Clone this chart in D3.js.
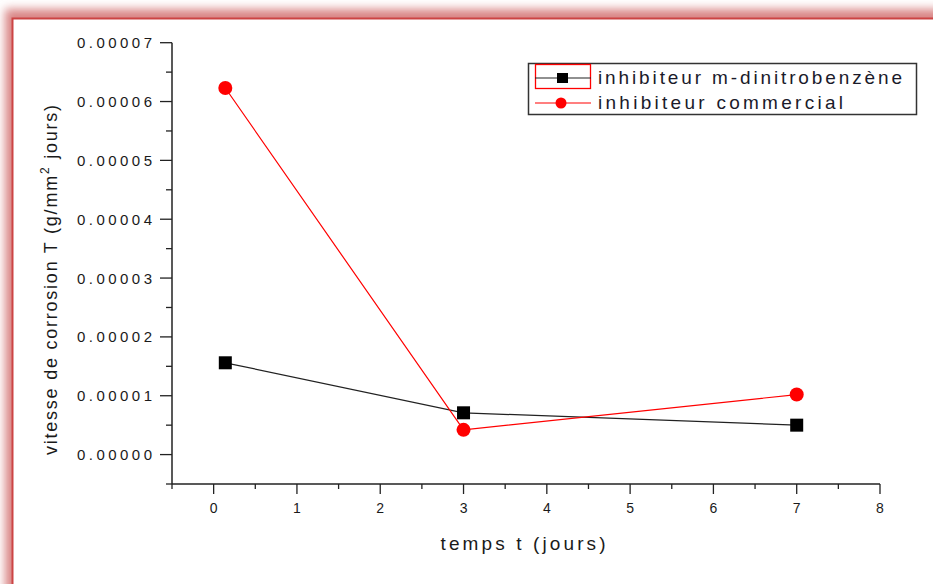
<!DOCTYPE html>
<html>
<head>
<meta charset="utf-8">
<script src="https://cdn.jsdelivr.net/npm/d3@7"></script>
<style>
  html, body { margin: 0; padding: 0; background: #fff; }
  svg { display: block; font-family: "Liberation Sans", Arial, sans-serif; }
</style>
</head>
<body>
<svg id="chart" width="933" height="584"></svg>
<script>
// data
const joursM = [0.14, 3, 7]
const vitesseM = [1.56e-5, 7.1e-6, 5.0e-6]
const joursC = [0.14, 3, 7]
const vitesseC = [6.23e-5, 4.2e-6, 1.02e-5]

const xTicks = [0, 1, 2, 3, 4, 5, 6, 7, 8]
const yTicks = [0, 1e-5, 2e-5, 3e-5, 4e-5, 5e-5, 6e-5, 7e-5]
const legendLabels = ["inhibiteur m-dinitrobenzène", "inhibiteur commercial"]

const svg = d3.select("#chart")

// frame with reddish shadow
const defs = svg.append("defs")
defs.append("filter").attr("id", "blur")
    .attr("x", "-20%").attr("y", "-20%").attr("width", "140%").attr("height", "140%")
  .append("feGaussianBlur").attr("stdDeviation", 5)

svg.append("rect")
    .attr("x", 5).attr("y", 9).attr("width", 1100).attr("height", 1100)
    .style("fill", "#d98585")
    .attr("filter", "url(#blur)")
svg.append("rect")
    .attr("x", 12.5).attr("y", 18.5).attr("width", 1100).attr("height", 1100)
    .style("fill", "#fff")
    .style("stroke", "#cc4444")
    .style("stroke-width", 2)

const x = d3.scaleLinear().domain([-0.5, 8]).range([172, 880])
const y = d3.scaleLinear().domain([-5e-6, 7e-5]).range([484, 42.7])

const axisColor = "#222"

// y axis
const yAxis = svg.append("g").attr("transform", "translate(172,0)")
yAxis.append("line")
    .attr("x1", 0).attr("x2", 0)
    .attr("y1", y(7e-5)).attr("y2", y(-5e-6))
    .style("stroke", axisColor).style("stroke-width", 1.5)
yAxis.selectAll(".major").data(yTicks).enter().append("line")
    .attr("x1", -12).attr("x2", 0)
    .attr("y1", d => y(d)).attr("y2", d => y(d))
    .style("stroke", axisColor).style("stroke-width", 1.3)
yAxis.selectAll(".minor").data(d3.range(-5e-6, 7e-5, 1e-5)).enter().append("line")
    .attr("x1", -6).attr("x2", 0)
    .attr("y1", d => y(d)).attr("y2", d => y(d))
    .style("stroke", axisColor).style("stroke-width", 1.3)
yAxis.selectAll("text").data(yTicks).enter().append("text")
    .attr("x", -20)
    .attr("y", d => y(d) + 5.5)
    .attr("text-anchor", "end")
    .attr("textLength", 75)
    .attr("lengthAdjust", "spacing")
    .style("font-size", "15px")
    .style("fill", "#1a1a1a")
    .text(d => d3.format(".5f")(d))

// x axis
const xAxis = svg.append("g").attr("transform", "translate(0,484)")
xAxis.append("line")
    .attr("x1", x(-0.5)).attr("x2", x(8))
    .attr("y1", 0).attr("y2", 0)
    .style("stroke", axisColor).style("stroke-width", 1.5)
xAxis.selectAll(".major").data(xTicks).enter().append("line")
    .attr("x1", d => x(d)).attr("x2", d => x(d))
    .attr("y1", 0).attr("y2", 10)
    .style("stroke", axisColor).style("stroke-width", 1.3)
xAxis.selectAll(".minor").data(d3.range(-0.5, 8, 1)).enter().append("line")
    .attr("x1", d => x(d)).attr("x2", d => x(d))
    .attr("y1", 0).attr("y2", 5)
    .style("stroke", axisColor).style("stroke-width", 1.3)
xAxis.selectAll("text").data(xTicks).enter().append("text")
    .attr("x", d => x(d))
    .attr("y", 29)
    .attr("text-anchor", "middle")
    .style("font-size", "14px")
    .style("fill", "#1a1a1a")
    .text(d => d)

// axis titles
svg.append("text")
    .attr("x", 523).attr("y", 550)
    .attr("text-anchor", "middle")
    .attr("textLength", 165)
    .attr("lengthAdjust", "spacing")
    .style("font-size", "19px")
    .style("fill", "#1a1a1a")
    .text("temps t (jours)")

const yTitle = svg.append("text")
    .attr("transform", "translate(57,280) rotate(-90)")
    .attr("text-anchor", "middle")
    .attr("textLength", 350)
    .attr("lengthAdjust", "spacing")
    .style("font-size", "18px")
    .style("fill", "#1a1a1a")
yTitle.append("tspan").text("vitesse de corrosion T (g/mm")
yTitle.append("tspan").attr("dy", -8).style("font-size", "12px").text("2")
yTitle.append("tspan").attr("dy", 8).text(" jours)")

// series
const line = d3.line().x(d => x(d[0])).y(d => y(d[1]))
const dataM = joursM.map((j, i) => [j, vitesseM[i]])
const dataC = joursC.map((j, i) => [j, vitesseC[i]])

svg.append("path").datum(dataM)
    .attr("d", line)
    .style("fill", "none").style("stroke", "#222").style("stroke-width", 1.2)
svg.append("path").datum(dataC)
    .attr("d", line)
    .style("fill", "none").style("stroke", "#ff0000").style("stroke-width", 1.2)

svg.selectAll(".sq").data(dataM).enter().append("rect")
    .attr("x", d => x(d[0]) - 6.5).attr("y", d => y(d[1]) - 6.5)
    .attr("width", 13).attr("height", 13)
    .style("fill", "#000")
svg.selectAll(".ci").data(dataC).enter().append("circle")
    .attr("cx", d => x(d[0])).attr("cy", d => y(d[1]))
    .attr("r", 7)
    .style("fill", "#ff0000")

// legend
const legend = svg.append("g")
legend.append("rect")
    .attr("x", 528.5).attr("y", 63.5).attr("width", 388).attr("height", 51)
    .style("fill", "#fff").style("stroke", "#333").style("stroke-width", 1.5)
legend.append("rect")
    .attr("x", 535.5).attr("y", 64.5).attr("width", 55).attr("height", 24)
    .style("fill", "none").style("stroke", "#ff0000").style("stroke-width", 1.3)

const rows = [78, 103]
legend.append("line")
    .attr("x1", 535).attr("x2", 591).attr("y1", rows[0]).attr("y2", rows[0])
    .style("stroke", "#222").style("stroke-width", 1.2)
legend.append("rect")
    .attr("x", 557).attr("y", rows[0] - 5).attr("width", 11).attr("height", 10)
    .style("fill", "#000")
legend.append("line")
    .attr("x1", 535).attr("x2", 591).attr("y1", rows[1]).attr("y2", rows[1])
    .style("stroke", "#ff0000").style("stroke-width", 1.2)
legend.append("circle")
    .attr("cx", 561).attr("cy", rows[1]).attr("r", 5.5)
    .style("fill", "#ff0000")

const legendWidths = [304, 245]
legend.selectAll(".lt").data(legendLabels).enter().append("text")
    .attr("x", 598)
    .attr("y", (d, i) => rows[i] + 6)
    .attr("textLength", (d, i) => legendWidths[i])
    .attr("lengthAdjust", "spacing")
    .style("font-size", "19px")
    .style("fill", "#1a1a2a")
    .text(d => d)
</script>
</body>
</html>
